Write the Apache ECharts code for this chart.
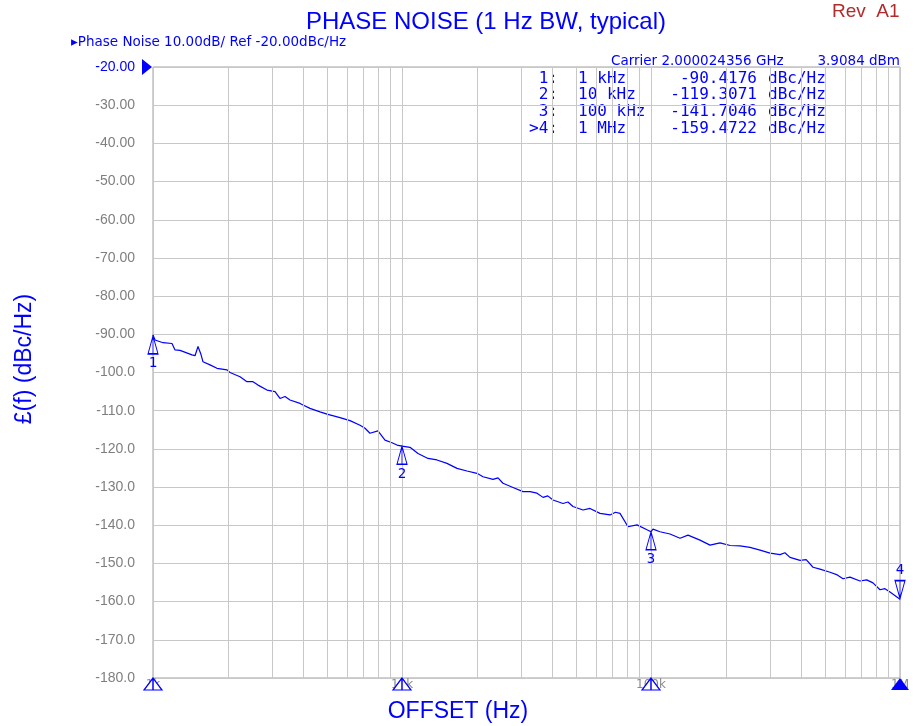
<!DOCTYPE html>
<html lang="en">
<head>
<meta charset="utf-8" />
<title>Phase Noise</title>
<style>
  html, body { margin: 0; padding: 0; background: #fff; }
  #chart { width: 915px; height: 726px; }
</style>
<script src="https://cdn.jsdelivr.net/npm/echarts@6/dist/echarts.min.js"></script>
</head>
<body>
<div id="chart"></div>
<script>
// offset frequency (Hz) and phase noise (dBc/Hz)
var freqs = [1000, 1019, 1097, 1192, 1226, 1284, 1434, 1475, 1516, 1559, 1588, 1694, 1807, 1983, 2038,
  2236, 2385, 2521, 2641, 2870, 3090, 3236, 3389, 3549, 3894, 4004, 4271, 4685, 4998, 5636, 6183,
  6783, 7103, 7437, 8006, 8545, 9116, 9548, 10000, 10767, 11594, 12718, 13820, 15158, 16632, 18239,
  20011, 21151, 23202, 24300, 25442, 27915, 30611, 32666, 34851, 36840, 38500, 40404, 44330, 46400, 48606, 53333, 56885,
  62404, 68440, 72000, 75094, 80836, 87862, 96360, 100000, 101860, 108670, 119210, 130800, 140800, 157300,
  172600, 189300, 208000, 227800, 249800, 274100, 300600, 329800, 345000, 361600, 396700, 420000, 447300, 477100, 523600,
  560000, 590300, 629900, 690800, 735000, 778800, 831100, 870000, 911500, 1000000];
var noise = [-90.2, -91.5, -92.2, -92.4, -94.1, -94.2, -95.4, -95.6, -93.2, -95.3, -97.2, -98.0, -98.9, -99.3, -100.0,
  -101.1, -102.4, -102.4, -103.3, -104.6, -105.0, -106.8, -106.3, -107.2, -108.1, -108.5, -109.4, -110.3, -110.9, -111.8, -112.6,
  -113.8, -114.6, -115.9, -115.3, -117.7, -118.4, -119.0, -119.3, -119.6, -121.2, -122.5, -122.9, -123.8, -125.1, -125.8,
  -126.4, -127.3, -128.0, -127.6, -129.0, -130.1, -131.2, -131.2, -131.6, -132.7, -132.3, -133.4, -134.3, -133.9, -135.1, -136.0, -135.6,
  -136.9, -137.3, -136.6, -136.9, -140.4, -139.9, -141.2, -141.7, -141.0, -141.7, -142.3, -143.4, -142.6, -143.9,
  -145.2, -144.6, -145.3, -145.4, -145.8, -146.5, -147.3, -147.7, -147.2, -148.4, -149.2, -149.0, -151.0, -151.5, -152.3,
  -153.0, -154.0, -153.6, -154.6, -154.3, -155.1, -156.9, -156.6, -157.5, -159.4];

// markers
var markerIds = ['1:', '2:', '3:', '>4:'];
var markerFreqs = [1000, 10000, 100000, 1000000];
var markerNames = ['1 kHz', '10 kHz', '100 kHz', '1 MHz'];
var markerValues = [-90.4176, -119.3071, -141.7046, -159.4722];

// axis
var xTickLabels = { 1000: '1k', 10000: '10k', 100000: '100k', 1000000: '1M' };
var minorGrid = [2, 3, 4, 5, 6, 7, 8, 9, 20, 30, 40, 50, 60, 70, 80, 90, 200, 300, 400, 500, 600, 700, 800, 900]
  .map(function (k) { return k * 1000; });

var BLUE = '#0000ff';
var GRIDC = '#c8c8c8';

var chart = echarts.init(document.getElementById('chart'));

var upMarker = 'path://M6,0 L0,18 L12,18 Z M6,0 L6,18';
var downMarker = 'path://M0,0 L12,0 L6,18 Z M6,0 L6,18';

var tracePoints = markerFreqs.map(function (f, i) {
  var last = i === markerFreqs.length - 1;
  return {
    coord: [f, markerValues[i]],
    symbol: last ? downMarker : upMarker,
    symbolSize: [10, 18],
    symbolOffset: [0, last ? -10 : 9],
    label: {
      show: true,
      formatter: String(i + 1),
      position: last ? 'top' : 'bottom',
      distance: 2,
      color: BLUE,
      fontSize: 14,
      fontFamily: 'DejaVu Sans Mono'
    }
  };
});

var axisPoints = markerFreqs.map(function (f, i) {
  var last = i === markerFreqs.length - 1;
  return {
    coord: [f, -180],
    symbol: last ? 'triangle' : 'path://M9,0 L0,12 L18,12 Z M9,0 L9,12',
    symbolSize: [18, 12],
    symbolOffset: [0, 6],
    itemStyle: last ? { color: BLUE, borderWidth: 0 } : undefined,
    label: { show: false }
  };
});

var refPoint = {
  coord: [1000, -20],
  symbol: 'path://M0,0 L10,8 L0,16 Z',
  symbolSize: [10, 16],
  symbolOffset: [-6, 0],
  itemStyle: { color: BLUE, borderWidth: 0 },
  label: { show: false }
};

// text block in the upper right
var tableFont = '16px "DejaVu Sans Mono"';
var rowY = [78.5, 95.2, 111.8, 128.5];
var tableText = [];
markerIds.forEach(function (id, i) {
  tableText.push({ type: 'text', x: 558, y: rowY[i], style: { text: id, fill: BLUE, font: tableFont, textAlign: 'right', textVerticalAlign: 'middle' } });
  tableText.push({ type: 'text', x: 578, y: rowY[i], style: { text: markerNames[i], fill: BLUE, font: tableFont, textAlign: 'left', textVerticalAlign: 'middle' } });
  tableText.push({ type: 'text', x: 757, y: rowY[i], style: { text: markerValues[i].toFixed(4), fill: BLUE, font: tableFont, textAlign: 'right', textVerticalAlign: 'middle' } });
  tableText.push({ type: 'text', x: 768, y: rowY[i], style: { text: 'dBc/Hz', fill: BLUE, font: tableFont, textAlign: 'left', textVerticalAlign: 'middle' } });
});

var option = {
  animation: false,
  backgroundColor: '#ffffff',
  title: {
    text: 'PHASE NOISE (1 Hz BW, typical)',
    left: 481,
    textAlign: 'center',
    top: 5,
    textStyle: { color: BLUE, fontSize: 24, fontWeight: 'normal', fontFamily: 'Liberation Sans' }
  },
  grid: {
    left: 153, right: 15, top: 67, bottom: 48,
    show: true, borderColor: '#a0a0a0', borderWidth: 1, backgroundColor: 'transparent'
  },
  xAxis: {
    type: 'log',
    logBase: 10,
    min: 1000,
    max: 1000000,
    axisLine: { show: false },
    axisTick: { show: false },
    splitLine: { show: true, lineStyle: { color: GRIDC, width: 1 } },
    axisLabel: {
      margin: 1,
      color: '#8a8a8a',
      fontSize: 12,
      fontFamily: 'DejaVu Sans',
      formatter: function (v) { return xTickLabels[Math.round(v)] || ''; }
    }
  },
  yAxis: {
    type: 'value',
    min: -180,
    max: -20,
    interval: 10,
    axisLine: { show: false },
    axisTick: { show: false },
    splitLine: { show: true, lineStyle: { color: GRIDC, width: 1 } },
    axisLabel: {
      margin: 18,
      color: '#7f7f7f',
      fontSize: 14,
      fontFamily: 'Liberation Sans',
      formatter: function (v) {
        var s = v > -100 ? v.toFixed(2) : v.toFixed(1);
        return v === -20 ? '{b|' + s + '}' : s;
      },
      rich: { b: { color: BLUE, fontSize: 14, fontFamily: 'Liberation Sans' } }
    }
  },
  graphic: [
    { type: 'text', x: 832, y: 12, style: { text: 'Rev  A1', fill: '#b22a2a', font: '19px "Liberation Sans"', textVerticalAlign: 'middle' } },
    { type: 'text', x: 71, y: 42, style: { text: '\u25B8Phase Noise 10.00dB/ Ref -20.00dBc/Hz', fill: BLUE, font: '13.5px "DejaVu Sans"', textVerticalAlign: 'middle' } },
    { type: 'text', x: 611, y: 61, style: { text: 'Carrier 2.000024356 GHz', fill: BLUE, font: '13.5px "DejaVu Sans"', textVerticalAlign: 'middle' } },
    { type: 'text', x: 900, y: 61, style: { text: '3.9084 dBm', fill: BLUE, font: '13.5px "DejaVu Sans"', textAlign: 'right', textVerticalAlign: 'middle' } },
    { type: 'text', x: 458, y: 712, style: { text: 'OFFSET (Hz)', fill: BLUE, font: '23px "Liberation Sans"', textAlign: 'center', textVerticalAlign: 'middle' } },
    { type: 'text', x: 25, y: 359, rotation: Math.PI / 2, style: { text: '\u00A3(f) (dBc/Hz)', fill: BLUE, font: '23px "Liberation Sans"', textAlign: 'center', textVerticalAlign: 'middle' } }
  ].concat(tableText),
  series: [
    {
      name: 'minor grid',
      type: 'line',
      data: [],
      z: 1,
      silent: true,
      markLine: {
        silent: true,
        symbol: ['none', 'none'],
        label: { show: false },
        lineStyle: { color: GRIDC, type: 'solid', width: 1 },
        data: minorGrid.map(function (v) { return { xAxis: v }; })
      }
    },
    {
      name: 'Phase Noise',
      type: 'line',
      z: 3,
      showSymbol: false,
      data: freqs.map(function (f, i) { return [f, noise[i]]; }),
      lineStyle: { color: BLUE, width: 1.2 },
      itemStyle: { color: BLUE },
      markPoint: {
        silent: true,
        itemStyle: { color: '#ffffff', borderColor: BLUE, borderWidth: 1.2 },
        data: tracePoints.concat(axisPoints).concat([refPoint])
      }
    }
  ]
};

chart.setOption(option);
</script>
</body>
</html>
